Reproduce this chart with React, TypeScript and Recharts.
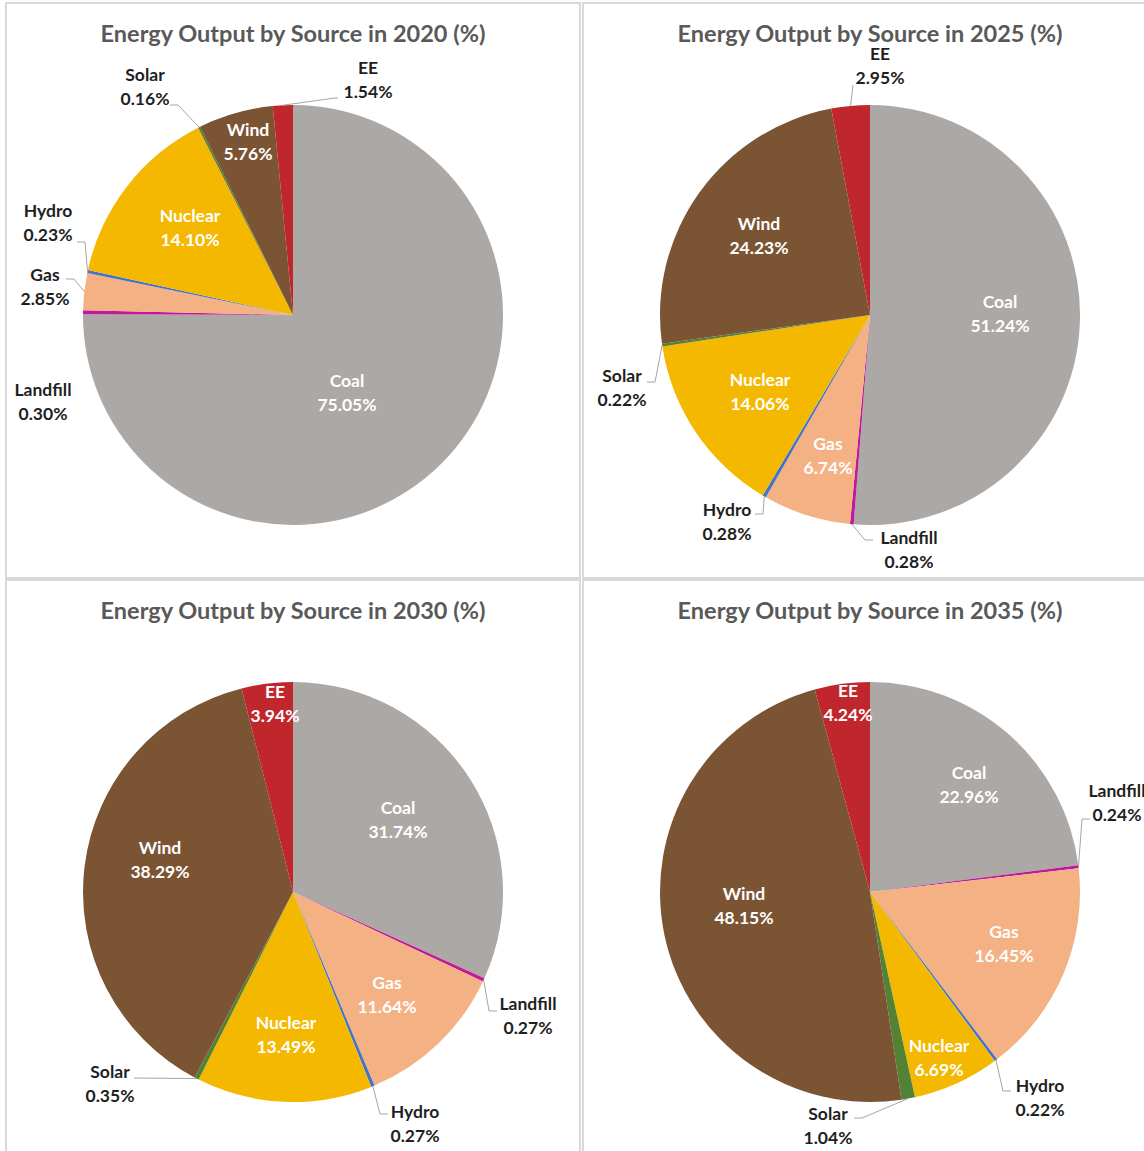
import { PieChart, Pie, Cell } from "recharts"

const sources = ["Coal", "Landfill", "Gas", "Hydro", "Nuclear", "Solar", "Wind", "EE"]
const sourceColors = ["#ABA8A6", "#C0199B", "#F4B183", "#4472C4", "#F5B800", "#548235", "#7B5434", "#C0272C"]
const years = ["2020", "2025", "2030", "2035"]

const share2020 = [75.05, 0.3, 2.85, 0.23, 14.1, 0.16, 5.76, 1.54]
const share2025 = [51.24, 0.28, 6.74, 0.28, 14.06, 0.22, 24.23, 2.95]
const share2030 = [31.74, 0.27, 11.64, 0.27, 13.49, 0.35, 38.29, 3.94]
const share2035 = [22.96, 0.24, 16.45, 0.22, 6.69, 1.04, 48.15, 4.24]

// label placement, offsets from the pie centre; ax/ay = where the leader line meets the text
type Place = { dx: number; dy: number; inside?: boolean; ax?: number; ay?: number; elbow?: number }

const place2020: Place[] = [
  { dx: 54, dy: 78, inside: true },
  { dx: -250, dy: 87 },
  { dx: -248, dy: -28, ax: -227, ay: -36 },
  { dx: -245, dy: -92, ax: -216, ay: -73 },
  { dx: -103, dy: -87, inside: true },
  { dx: -148, dy: -228, ax: -123, ay: -210 },
  { dx: -45, dy: -173, inside: true },
  { dx: 75, dy: -235, ax: 45, ay: -217, elbow: 3 },
]
const place2025: Place[] = [
  { dx: 130, dy: -1, inside: true },
  { dx: 39, dy: 235, ax: 3, ay: 225 },
  { dx: -42, dy: 141, inside: true },
  { dx: -143, dy: 207, ax: -115, ay: 199 },
  { dx: -110, dy: 77, inside: true },
  { dx: -248, dy: 73, ax: -223, ay: 67 },
  { dx: -111, dy: -79, inside: true },
  { dx: 10, dy: -249, ax: -17, ay: -230, elbow: 0 },
]
const place2030: Place[] = [
  { dx: 105, dy: -72, inside: true },
  { dx: 235, dy: 124, ax: 204, ay: 119 },
  { dx: 94, dy: 103, inside: true },
  { dx: 122, dy: 232, ax: 95, ay: 222 },
  { dx: -7, dy: 143, inside: true },
  { dx: -183, dy: 192, ax: -159, ay: 186, elbow: 0 },
  { dx: -133, dy: -32, inside: true },
  { dx: -18, dy: -188, inside: true },
]
const place2035: Place[] = [
  { dx: 99, dy: -107, inside: true },
  { dx: 247, dy: -89, ax: 220, ay: -73 },
  { dx: 134, dy: 52, inside: true },
  { dx: 170, dy: 206, ax: 141, ay: 199 },
  { dx: 69, dy: 166, inside: true },
  { dx: -42, dy: 234, ax: -16, ay: 226 },
  { dx: -126, dy: 14, inside: true },
  { dx: -22, dy: -189, inside: true },
]

const allShares = [share2020, share2025, share2030, share2035]
const allPlaces = [place2020, place2025, place2030, place2035]

const W = 576
const H = 577
const CX = 288
const CY = 313
const R = 210
const RAD = Math.PI / 180
const FONT = "Lato, 'Open Sans', sans-serif"

function makeLabel(places: Place[]) {
  return (props: any) => {
    const { cx, cy, midAngle, outerRadius, index, name, value } = props
    const p = places[index]
    const tx = cx + p.dx
    const ty = cy + p.dy
    let leader = null
    if (!p.inside && p.ax !== undefined && p.ay !== undefined) {
      const ex = cx + outerRadius * Math.cos(-midAngle * RAD)
      const ey = cy + outerRadius * Math.sin(-midAngle * RAD)
      const axp = cx + p.ax
      const ayp = cy + p.ay
      const len = p.elbow ?? 8
      const bx = axp + Math.sign(ex - axp) * len
      leader = (
        <polyline
          points={`${axp},${ayp} ${bx},${ayp} ${ex},${ey}`}
          fill="none"
          stroke="#A6A6A6"
          strokeWidth={1}
        />
      )
    }
    const fill = p.inside ? "#ffffff" : "#1f1f1f"
    return (
      <g>
        {leader}
        <text x={tx} y={ty} textAnchor="middle" fontFamily={FONT} fontWeight={700} fontSize={17.5} fill={fill}>
          <tspan x={tx} dy={-6}>{name}</tspan>
          <tspan x={tx} dy={24}>{value.toFixed(2)}%</tspan>
        </text>
      </g>
    )
  }
}

function Panel({ yearIdx, left, top }: { yearIdx: number; left: number; top: number }) {
  const data = sources.map((s, i) => ({ name: s, value: allShares[yearIdx][i] }))
  return (
    <div style={{ position: "absolute", left, top, width: W, height: H }}>
      <div
        style={{
          position: "absolute",
          inset: 0,
          border: "2px solid #D9D9D9",
          boxSizing: "border-box",
        }}
      />
      <div
        style={{
          position: "absolute",
          left: 0,
          top: 16,
          width: W,
          textAlign: "center",
          fontFamily: FONT,
          fontSize: 23.5,
          fontWeight: 700,
          color: "#595959",
          lineHeight: "30px",
        }}
      >
        Energy Output by Source in {years[yearIdx]} (%)
      </div>
      <div style={{ position: "absolute", left: 0, top: 0 }}>
        <PieChart width={W} height={H} margin={{ top: 0, right: 0, bottom: 0, left: 0 }}>
          <Pie
            data={data}
            dataKey="value"
            nameKey="name"
            cx={CX}
            cy={CY}
            outerRadius={R}
            startAngle={90}
            endAngle={-270}
            stroke="none"
            label={makeLabel(allPlaces[yearIdx])}
            labelLine={false}
            isAnimationActive={false}
          >
            {data.map((d, i) => (
              <Cell key={d.name} fill={sourceColors[i]} />
            ))}
          </Pie>
        </PieChart>
      </div>
    </div>
  )
}

export default function App() {
  return (
    <div
      style={{
        position: "absolute",
        left: 0,
        top: 0,
        width: 1144,
        height: 1151,
        overflow: "hidden",
        background: "#fff",
      }}
    >
      <Panel yearIdx={0} left={5} top={2} />
      <Panel yearIdx={1} left={582} top={2} />
      <Panel yearIdx={2} left={5} top={579} />
      <Panel yearIdx={3} left={582} top={579} />
    </div>
  )
}
